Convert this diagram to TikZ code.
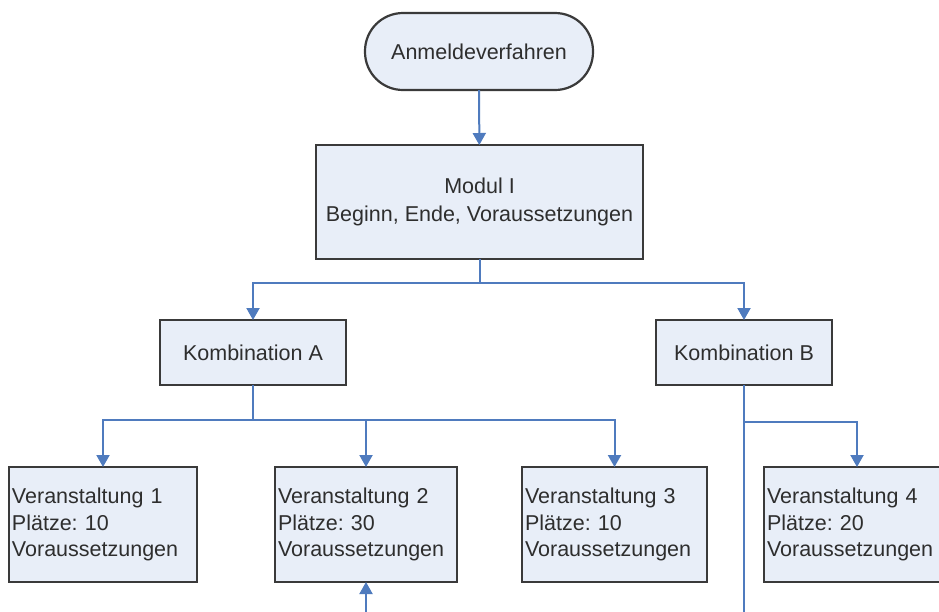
\documentclass[tikz,border=0pt]{standalone}
\usepackage{fontspec}
\setmainfont{Liberation Sans}
\frenchspacing
\usetikzlibrary{arrows.meta}
\definecolor{boxfill}{HTML}{E8EEF8}
\definecolor{boxline}{HTML}{3A3A3A}
\definecolor{linkblue}{HTML}{4F7BBE}
\definecolor{txt}{HTML}{2E2E2E}
\tikzset{
  base/.style={draw=boxline, fill=boxfill, line width=2.2pt, text=txt, outer sep=0pt,
    font=\fontsize{21.5}{26.5}\selectfont},
  terminal/.style={base, rectangle, rounded corners=38pt, minimum width=228pt, minimum height=77pt},
  process/.style={base, rectangle, align=center},
  event/.style={base, rectangle, minimum height=115pt, inner sep=3pt, align=left},
  conn/.style={draw=linkblue, line width=2pt, -{Triangle[length=12pt,width=13pt]}},
  trunk/.style={draw=linkblue, line width=2pt}
}
\begin{document}
\begin{tikzpicture}[x=1pt, y=-1pt]
  \useasboundingbox (0,0) rectangle (939,611);
  \clip (0,0) rectangle (939,611);
  \fill[white] (0,0) rectangle (939,611);

  % nodes
  \node[terminal] (start) at (479,51.5) {Anmeldeverfahren};
  \node[process, minimum width=327pt, minimum height=114pt] (modul) at (479.5,202)
    {Modul I\\[1pt]Beginn, Ende, Voraussetzungen};
  \node[process, minimum width=186pt, minimum height=65pt] (kombA) at (253,352.5) {Kombination A};
  \node[process, minimum width=176pt, minimum height=65pt] (kombB) at (744,352.5) {Kombination B};
  \node[event, text width=182pt] (v1) at (103,524.5) {Veranstaltung 1\\Plätze: 10\\Voraussetzungen};
  \node[event, text width=176pt] (v2) at (366,524.5) {Veranstaltung 2\\Plätze: 30\\Voraussetzungen};
  \node[event, text width=179pt] (v3) at (614.5,524.5) {Veranstaltung 3\\Plätze: 10\\Voraussetzungen};
  \node[event, text width=180pt] (v4) at (857,524.5) {Veranstaltung 4\\Plätze: 20\\Voraussetzungen};

  % free ends running past the lower edge
  \coordinate (bdown) at (744,620);
  \coordinate (feed) at (366,620);
  \coordinate (bsplit) at (744,422);

  % connectors
  \draw[conn] (start) -- (modul);
  \draw[conn] (modul.south) -- ++(0,24) -| (kombA.north);
  \draw[conn] (modul.south) -- ++(0,24) -| (kombB.north);
  \draw[conn] (kombA.south) -- ++(0,35) -| (v1.north);
  \draw[conn] (kombA.south) -- ++(0,35) -| (v2.north);
  \draw[conn] (kombA.south) -- ++(0,35) -| (v3.north);
  \draw[trunk] (kombB.south) -- (bdown);
  \draw[conn] (bsplit) -| (v4.north);
  \draw[conn] (feed) -- (v2.south);
\end{tikzpicture}
\end{document}
